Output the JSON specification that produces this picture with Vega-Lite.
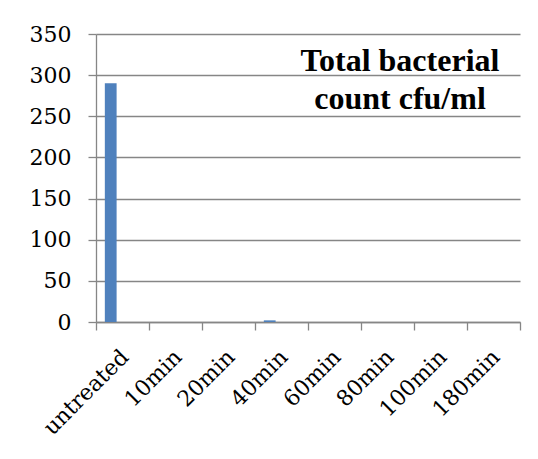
{
  "$schema": "https://vega.github.io/schema/vega-lite/v6.json",
  "width": 424,
  "height": 288,
  "autosize": {"type": "none"},
  "padding": {"left": 96, "top": 34, "right": 18, "bottom": 137},
  "background": "white",
  "title": {
    "text": ["Total bacterial", "count cfu/ml"],
    "font": "Liberation Serif",
    "fontSize": 32,
    "fontWeight": "bold",
    "color": "black",
    "anchor": "end",
    "align": "center",
    "dx": -120,
    "baseline": "top",
    "lineHeight": 38,
    "offset": -93,
    "frame": "group"
  },
  "data": {
    "values": [
      {"time": "untreated", "series": "A", "count": 290},
      {"time": "untreated", "series": "B", "count": 0},
      {"time": "untreated", "series": "C", "count": 0},
      {"time": "10min", "series": "A", "count": 0},
      {"time": "10min", "series": "B", "count": 0},
      {"time": "10min", "series": "C", "count": 0},
      {"time": "20min", "series": "A", "count": 0},
      {"time": "20min", "series": "B", "count": 0},
      {"time": "20min", "series": "C", "count": 0},
      {"time": "40min", "series": "A", "count": 2},
      {"time": "40min", "series": "B", "count": 0},
      {"time": "40min", "series": "C", "count": 0},
      {"time": "60min", "series": "A", "count": 0},
      {"time": "60min", "series": "B", "count": 0},
      {"time": "60min", "series": "C", "count": 0},
      {"time": "80min", "series": "A", "count": 0},
      {"time": "80min", "series": "B", "count": 0},
      {"time": "80min", "series": "C", "count": 0},
      {"time": "100min", "series": "A", "count": 0},
      {"time": "100min", "series": "B", "count": 0},
      {"time": "100min", "series": "C", "count": 0},
      {"time": "180min", "series": "A", "count": 0},
      {"time": "180min", "series": "B", "count": 0},
      {"time": "180min", "series": "C", "count": 0}
    ]
  },
  "mark": {"type": "bar", "color": "#4F81BD"},
  "encoding": {
    "x": {
      "field": "time",
      "type": "nominal",
      "sort": null,
      "scale": {"paddingInner": 0, "paddingOuter": 0},
      "axis": {
        "title": null,
        "tickBand": "extent",
        "labelAngle": -45,
        "labelAlign": "right",
        "labelBaseline": "top",
        "labelFont": "DejaVu Serif",
        "labelFontSize": 22,
        "labelColor": "black",
        "labelPadding": 16,
        "labelOffset": -5,
        "tickSize": 8,
        "tickColor": "#868686",
        "domainColor": "#868686",
        "tickWidth": 1.3,
        "domainWidth": 1.3,
        "grid": false
      }
    },
    "xOffset": {
      "field": "series",
      "type": "nominal",
      "scale": {"paddingInner": 0, "paddingOuter": 0.75}
    },
    "y": {
      "field": "count",
      "type": "quantitative",
      "scale": {"domain": [0, 350], "nice": false},
      "axis": {
        "title": null,
        "values": [0, 50, 100, 150, 200, 250, 300, 350],
        "labelFont": "DejaVu Serif",
        "labelFontSize": 22,
        "labelColor": "black",
        "labelPadding": 17,
        "tickSize": 8,
        "tickColor": "#868686",
        "domainColor": "#868686",
        "gridColor": "#868686",
        "tickWidth": 1.3,
        "domainWidth": 1.3,
        "gridWidth": 1.3,
        "grid": true
      }
    }
  },
  "config": {
    "view": {"stroke": null}
  }
}
